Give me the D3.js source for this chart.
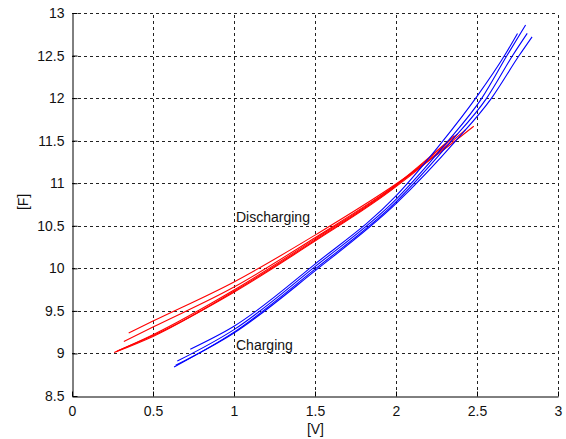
<!DOCTYPE html>
<html>
<head>
<meta charset="utf-8">
<script src="https://d3js.org/d3.v7.min.js"></script>
<style>
  body { margin: 0; background: #fff; }
  svg text { font-family: "Liberation Sans", Arial, sans-serif; }
</style>
</head>
<body>
<div id="chart"></div>
<script>
// x ticks [V], y ticks [F]
var xTicks = [0, 0.5, 1, 1.5, 2, 2.5, 3];
var yTicks = [8.5, 9, 9.5, 10, 10.5, 11, 11.5, 12, 12.5, 13];

// discharging runs (red), [V, F]
var discharging = [
  [[0.35, 9.24], [0.5, 9.38], [1.0, 9.84], [1.5, 10.39], [2.0, 10.99], [2.25, 11.33], [2.48, 11.67]],
  [[0.32, 9.14], [0.5, 9.31], [1.0, 9.78], [1.5, 10.36], [2.0, 10.98], [2.3, 11.42], [2.43, 11.63]],
  [[0.26, 9.01], [0.5, 9.20], [1.0, 9.73], [1.5, 10.33], [2.0, 10.97], [2.3, 11.45], [2.38, 11.58]],
  [[0.27, 9.02], [0.5, 9.22], [1.0, 9.745], [1.5, 10.345], [2.0, 10.98], [2.3, 11.46], [2.36, 11.56]],
  [[0.28, 9.03], [0.5, 9.21], [1.0, 9.72], [1.5, 10.32], [2.0, 10.96], [2.3, 11.44], [2.34, 11.52]]
];

// charging runs (blue), [V, F]
var charging = [
  [[0.73, 9.05], [1.0, 9.32], [1.5, 10.05], [2.0, 10.85], [2.27, 11.45], [2.5, 12.02], [2.67, 12.5], [2.75, 12.76]],
  [[0.65, 8.91], [1.0, 9.28], [1.5, 10.02], [2.0, 10.81], [2.3, 11.45], [2.53, 12.0], [2.685, 12.5], [2.80, 12.86]],
  [[0.63, 8.84], [1.0, 9.25], [1.5, 9.99], [2.0, 10.78], [2.33, 11.47], [2.56, 12.0], [2.72, 12.5], [2.81, 12.76]],
  [[0.64, 8.86], [1.0, 9.24], [1.5, 9.97], [2.0, 10.76], [2.37, 11.5], [2.59, 12.0], [2.76, 12.5], [2.84, 12.72]]
];

var labels = [
  {text: "Discharging", x: 1.0, y: 10.545},
  {text: "Charging", x: 1.0, y: 9.045}
];

var width = 566, height = 439;
var margin = {top: 13, right: 8, bottom: 43, left: 72};

var svg = d3.select("#chart")
  .append("svg")
  .attr("width", width)
  .attr("height", height);

var xScale = d3.scaleLinear().domain([0, 3]).range([margin.left, width - margin.right]);
var yScale = d3.scaleLinear().domain([8.5, 13]).range([height - margin.bottom, margin.top]);

// grid
var grid = svg.append("g").attr("class", "grid");
grid.selectAll(".vgrid")
  .data(xTicks.slice(1))
  .enter()
  .append("line")
  .attr("x1", function(d) { return Math.round(xScale(d)) + 0.5; })
  .attr("x2", function(d) { return Math.round(xScale(d)) + 0.5; })
  .attr("y1", yScale(8.5))
  .attr("y2", yScale(13))
  .attr("stroke", "#222")
  .attr("stroke-dasharray", "3,3");
grid.selectAll(".hgrid")
  .data(yTicks.slice(1))
  .enter()
  .append("line")
  .attr("y1", function(d) { return Math.round(yScale(d)) + 0.5; })
  .attr("y2", function(d) { return Math.round(yScale(d)) + 0.5; })
  .attr("x1", xScale(0))
  .attr("x2", xScale(3))
  .attr("stroke", "#222")
  .attr("stroke-dasharray", "3,3");

// curves
var line = d3.line()
  .x(function(d) { return xScale(d[0]); })
  .y(function(d) { return yScale(d[1]); })
  .curve(d3.curveMonotoneX);

svg.append("g").selectAll("path")
  .data(discharging)
  .enter()
  .append("path")
  .attr("d", line)
  .attr("fill", "none")
  .attr("stroke", "#ff0000")
  .attr("stroke-width", 1.1);

svg.append("g").selectAll("path")
  .data(charging)
  .enter()
  .append("path")
  .attr("d", line)
  .attr("fill", "none")
  .attr("stroke", "#0000ff")
  .attr("stroke-width", 1.1);

// axes, ticks inward
var xAxis = d3.axisBottom(xScale).tickValues(xTicks).tickSizeInner(-5).tickSizeOuter(0).tickPadding(10)
  .tickFormat(d3.format("~g"));
var yAxis = d3.axisLeft(yScale).tickValues(yTicks).tickSizeInner(-5).tickSizeOuter(0).tickPadding(8)
  .tickFormat(d3.format("~g"));

var gx = svg.append("g")
  .attr("transform", "translate(0," + (Math.round(yScale(8.5)) + 0.5) + ")")
  .call(xAxis);
var gy = svg.append("g")
  .attr("transform", "translate(" + (Math.round(xScale(0)) + 0.5) + ",0)")
  .call(yAxis);

[gx, gy].forEach(function(g) {
  g.select(".domain").attr("stroke", "#000").attr("stroke-width", 1);
  g.selectAll(".tick line").attr("stroke", "#000");
  g.selectAll(".tick text").attr("fill", "#111").style("font-size", "14px");
});

// axis labels
svg.append("text")
  .attr("x", xScale(1.45))
  .attr("y", 434)
  .attr("fill", "#111")
  .style("font-size", "14px")
  .text("[V]");

svg.append("text")
  .attr("transform", "translate(28," + yScale(10.78) + ") rotate(-90)")
  .attr("text-anchor", "middle")
  .attr("fill", "#111")
  .style("font-size", "14px")
  .text("[F]");

// annotations
svg.append("g").selectAll("text")
  .data(labels)
  .enter()
  .append("text")
  .attr("x", function(d) { return xScale(d.x) + 2; })
  .attr("y", function(d) { return yScale(d.y); })
  .attr("fill", "#111")
  .style("font-size", "14px")
  .text(function(d) { return d.text; });
</script>
</body>
</html>
